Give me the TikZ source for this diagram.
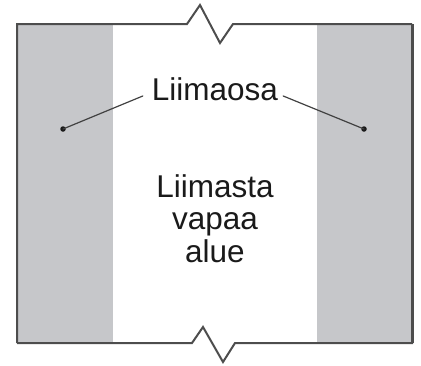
\documentclass[tikz,border=0pt]{standalone}
\usepackage{fontspec}
\setmainfont{Liberation Sans}
\usepackage{xcolor}
\usepackage{tikz}
\definecolor{glue}{HTML}{C6C7CA}
\definecolor{frame}{HTML}{4D4D4D}
\definecolor{ink}{HTML}{1A1A1A}
\tikzset{
  edge/.style={draw=frame, line width=2pt, line cap=butt, line join=miter},
  lead/.style={draw=frame!85!black, line width=1.2pt, line cap=round},
  dot/.style={circle, fill=ink, inner sep=0pt, minimum size=5.5pt},
  lab/.style={text=ink, inner sep=0pt, font=\fontsize{31.5}{32.5}\selectfont},
}
\begin{document}
\begin{tikzpicture}[x=1pt,y=-1pt]
  \useasboundingbox (0,0) rectangle (421,365);
  % frame corners
  \coordinate (TL) at (17,24);
  \coordinate (TR) at (412,24);
  \coordinate (BR) at (412,343);
  \coordinate (BL) at (17,343);

  % glue stripes
  \fill[glue] (TL) rectangle (113,343);
  \fill[glue] (317,24) rectangle (BR);

  % frame with break marks
  \draw[edge] (BL) -- (TL) -- (187,24) -- (200,5) -- (220,43) -- (233,24) -- (TR);
  \draw[edge] (TR) -- (BR) -- (235,343) -- (223,362) -- (203,327) -- (192,343) -- (BL);
  \draw[edge, line width=3pt] (TR) -- (BR);

  % labels
  \node[lab, anchor=base] (glueLab) at (215,100) {Liimaosa};
  \node[lab, anchor=base, align=center] (freeLab) at (215,262)
    {Liimasta\\vapaa\\alue};

  \node[dot] (dotL) at (63,129) {};
  \node[dot] (dotR) at (364,129) {};
  \coordinate (legL) at ([xshift=-9pt,yshift=4pt]glueLab.base west);
  \coordinate (legR) at ([xshift=5pt,yshift=4pt]glueLab.base east);
  \draw[lead] (legL) -- (dotL.center);
  \draw[lead] (legR) -- (dotR.center);
\end{tikzpicture}
\end{document}
